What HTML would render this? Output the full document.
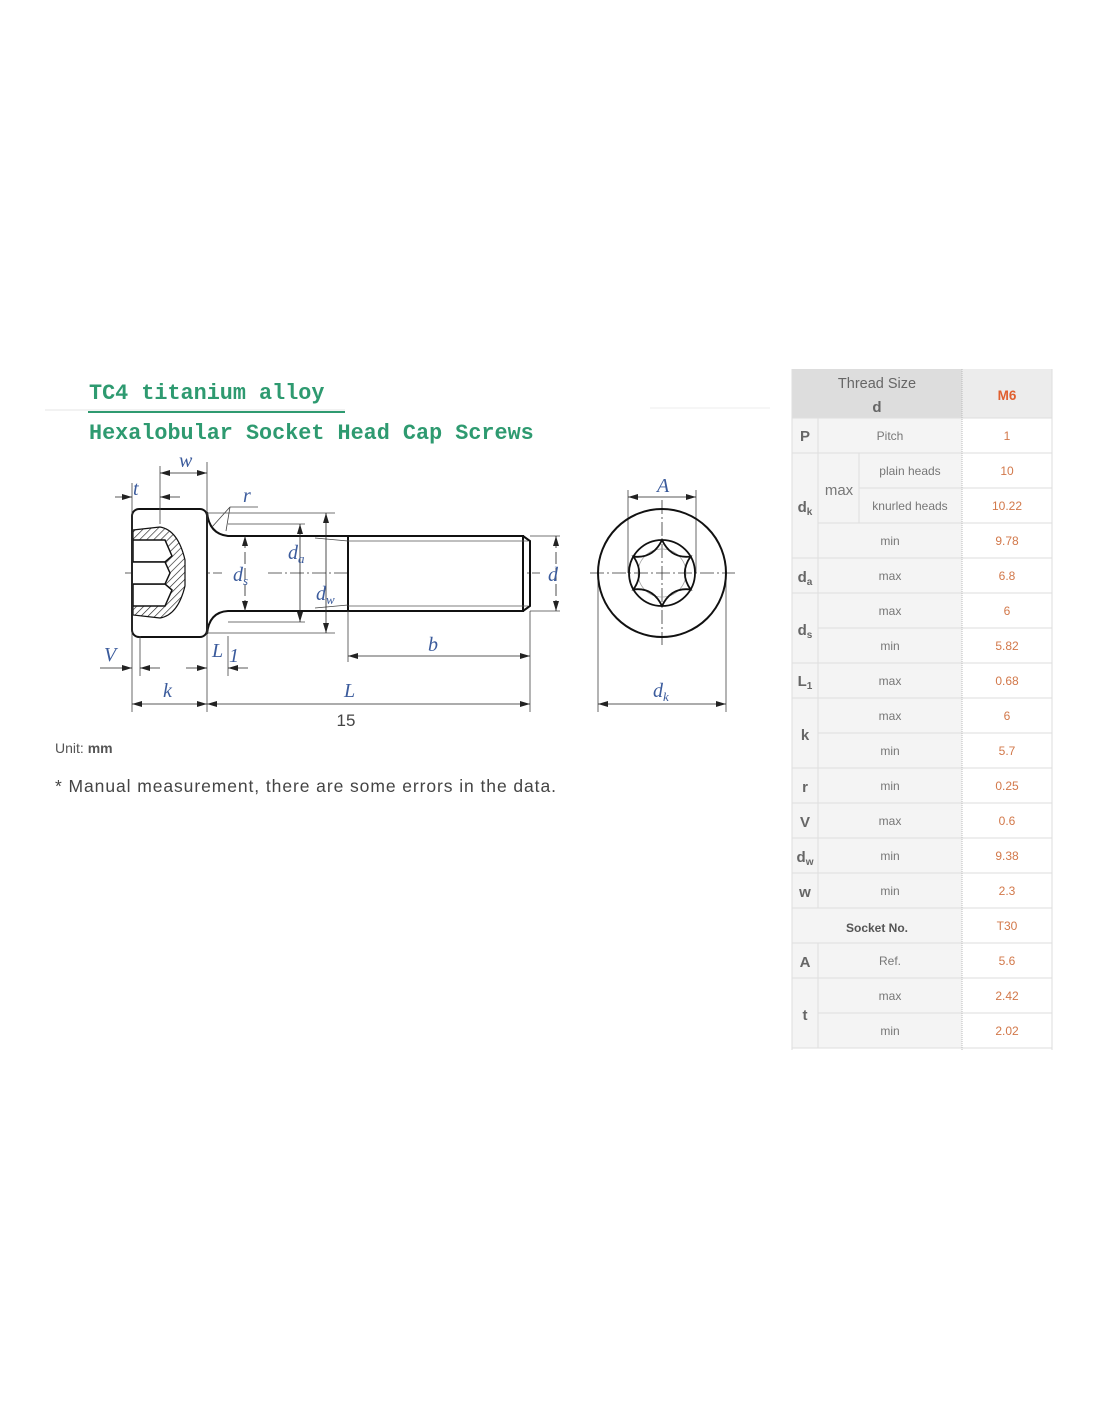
<!DOCTYPE html>
<html><head><meta charset="utf-8"><style>
html,body{margin:0;padding:0;background:#fff;}
body{width:1100px;height:1422px;position:relative;overflow:hidden;}
svg{position:absolute;left:0;top:0;}
.ti{font-family:"Liberation Mono",monospace;fill:#2e9a70;font-size:21.8px;font-weight:bold;}
.dim{font-family:"Liberation Serif",serif;font-style:italic;fill:#3b5b9c;font-size:20px;}
.tb{font-family:"Liberation Sans",sans-serif;font-size:12px;fill:#777;text-anchor:middle;}
.tv{font-family:"Liberation Sans",sans-serif;font-size:12px;fill:#d2784a;text-anchor:middle;}
.tl{font-family:"Liberation Sans",sans-serif;font-size:15px;fill:#666;text-anchor:middle;font-weight:bold;}
</style></head><body>
<svg width="1100" height="1422" viewBox="0 0 1100 1422">
<defs>
<pattern id="h" width="5" height="5" patternUnits="userSpaceOnUse" patternTransform="rotate(45)"><line x1="0" y1="0" x2="0" y2="5" stroke="#222" stroke-width="1.3"/></pattern>
<marker id="a" viewBox="0 0 10 6" refX="10" refY="3" markerWidth="10" markerHeight="6" orient="auto-start-reverse" markerUnits="userSpaceOnUse"><path d="M0,0L10,3L0,6z" fill="#222"/></marker>
</defs>
<line x1="45" y1="410" x2="345" y2="410" stroke="#e4e4e4"/>
<line x1="650" y1="408" x2="770" y2="408" stroke="#eee"/>
<line x1="88" y1="412" x2="345" y2="412" stroke="#2e9a70" stroke-width="2"/>
<text class="ti" x="89" y="399">TC4 titanium alloy</text>
<text class="ti" x="89" y="439">Hexalobular Socket Head Cap Screws</text>

<g stroke="#333" stroke-width="0.8" stroke-dasharray="14,3,2,3" fill="none">
<line x1="125" y1="573" x2="222" y2="573"/><line x1="268" y1="573" x2="540" y2="573"/>
<line x1="590" y1="573" x2="735" y2="573"/><line x1="662" y1="500" x2="662" y2="645"/>
</g>
<rect x="132" y="509" width="75" height="128" rx="7" fill="#fff" stroke="#111" stroke-width="2"/>
<path d="M133,530 L160,527 Q178,530 185,560 L185,586 Q178,615 160,618 L133,615 Z" fill="url(#h)" stroke="#111" stroke-width="1.2"/>
<path d="M133,540 L165,540 L172,556 L165,562 L133,562 Z M133,584 L165,584 L172,590 L165,606 L133,606 Z" fill="#fff" stroke="#111" stroke-width="1.5"/>
<path d="M133,562 L165,562 L170,573 L165,584 L133,584" fill="#fff" stroke="#111" stroke-width="1.5"/>
<path d="M207,512 Q209,534 228,536 L348,536 M207,634 Q209,612 228,611 L348,611" fill="none" stroke="#111" stroke-width="2"/>
<rect x="348" y="536" width="175" height="75" fill="#fff" stroke="#111" stroke-width="2"/>
<path d="M523,536 L530,541 L530,606 L523,611" fill="none" stroke="#111" stroke-width="2"/>
<line x1="348" y1="541" x2="528" y2="541" stroke="#555" stroke-width="0.8"/>
<line x1="348" y1="606" x2="528" y2="606" stroke="#555" stroke-width="0.8"/>
<g stroke="#444" stroke-width="0.8" fill="none">
<line x1="207" y1="513" x2="335" y2="513"/><line x1="207" y1="633" x2="335" y2="633"/>
<line x1="228" y1="524" x2="305" y2="524"/><line x1="228" y1="622" x2="305" y2="622"/>
<line x1="315" y1="538" x2="348" y2="541"/><line x1="315" y1="608" x2="348" y2="605"/>
<line x1="132" y1="483" x2="132" y2="712"/><line x1="207" y1="462" x2="207" y2="712"/>
<line x1="530" y1="611" x2="530" y2="712"/><line x1="348" y1="611" x2="348" y2="662"/>
<line x1="160" y1="466" x2="160" y2="524"/><line x1="140" y1="636" x2="140" y2="676"/>
<line x1="228" y1="636" x2="228" y2="676"/>
<line x1="230" y1="507" x2="258" y2="507"/><line x1="230" y1="507" x2="212" y2="527"/><line x1="230" y1="507" x2="226" y2="531"/>
<line x1="530" y1="536" x2="560" y2="536"/><line x1="530" y1="611" x2="560" y2="611"/>
<line x1="598" y1="573" x2="598" y2="712"/><line x1="726" y1="573" x2="726" y2="712"/>
<line x1="628" y1="490" x2="628" y2="573"/><line x1="696" y1="490" x2="696" y2="573"/>
</g>
<g stroke="#222" stroke-width="0.8" fill="none">
<line x1="160" y1="473" x2="207" y2="473" marker-start="url(#a)" marker-end="url(#a)"/>
<line x1="115" y1="497" x2="132" y2="497" marker-end="url(#a)"/><line x1="160" y1="497" x2="180" y2="497" marker-start="url(#a)"/>
<line x1="100" y1="668" x2="132" y2="668" marker-end="url(#a)"/><line x1="140" y1="668" x2="160" y2="668" marker-start="url(#a)"/>
<line x1="186" y1="668" x2="207" y2="668" marker-end="url(#a)"/><line x1="228" y1="668" x2="248" y2="668" marker-start="url(#a)"/>
<line x1="132" y1="704" x2="207" y2="704" marker-start="url(#a)" marker-end="url(#a)"/>
<line x1="207" y1="704" x2="530" y2="704" marker-start="url(#a)" marker-end="url(#a)"/>
<line x1="348" y1="656" x2="530" y2="656" marker-start="url(#a)" marker-end="url(#a)"/>
<line x1="326" y1="513" x2="326" y2="633" marker-start="url(#a)" marker-end="url(#a)"/>
<line x1="300" y1="524" x2="300" y2="622" marker-start="url(#a)" marker-end="url(#a)"/>
<line x1="245" y1="536" x2="245" y2="611" marker-start="url(#a)" marker-end="url(#a)" stroke-dasharray="12,4"/>
<line x1="556" y1="536" x2="556" y2="611" marker-start="url(#a)" marker-end="url(#a)" stroke-dasharray="12,4"/>
<line x1="628" y1="497" x2="696" y2="497" marker-start="url(#a)" marker-end="url(#a)"/>
<line x1="598" y1="704" x2="726" y2="704" marker-start="url(#a)" marker-end="url(#a)"/>
</g>
<circle cx="662" cy="573" r="64" fill="none" stroke="#111" stroke-width="2"/>
<circle cx="662" cy="573" r="33" fill="none" stroke="#111" stroke-width="1.8"/>
<circle cx="662" cy="573" r="24" fill="none" stroke="#999" stroke-width="0.7"/>
<path d="M662,540 Q671,559 690.6,556.5 Q679,573 690.6,589.5 Q671,587 662,606 Q653,587 633.4,589.5 Q645,573 633.4,556.5 Q653,559 662,540Z" fill="none" stroke="#111" stroke-width="1.8"/>
<text class="dim" x="179" y="467">w</text>
<text class="dim" x="133" y="495">t</text>
<text class="dim" x="243" y="502">r</text>
<text class="dim" x="288" y="559">d<tspan font-size="13" dy="4">a</tspan></text>
<text class="dim" x="233" y="581">d<tspan font-size="13" dy="4">s</tspan></text>
<text class="dim" x="316" y="600">d<tspan font-size="13" dy="4">w</tspan></text>
<text class="dim" x="548" y="581">d</text>
<text class="dim" x="104" y="661">V</text>
<text class="dim" x="212" y="657">L</text><text class="dim" x="229" y="662" font-size="15">1</text>
<text class="dim" x="428" y="651">b</text>
<text class="dim" x="163" y="697">k</text>
<text class="dim" x="344" y="697">L</text>
<text class="dim" x="657" y="492">A</text>
<text class="dim" x="653" y="697">d<tspan font-size="13" dy="4">k</tspan></text>
<text x="346" y="726" font-family="Liberation Sans,sans-serif" font-size="17" fill="#444" text-anchor="middle">15</text>
<text x="55" y="753" font-family="Liberation Sans,sans-serif" font-size="14" fill="#555">Unit: <tspan font-weight="bold">mm</tspan></text>
<text x="55" y="792" font-family="Liberation Sans,sans-serif" font-size="17.5" fill="#444" textLength="501" lengthAdjust="spacing">* Manual measurement, there are some errors in the data.</text>

<rect x="792" y="369" width="170" height="49" fill="#dddddd"/>
<rect x="962" y="369" width="90" height="49" fill="#ececec"/>
<rect x="792" y="418" width="170" height="630" fill="#f4f4f4"/>
<rect x="962" y="418" width="90" height="630" fill="#fff"/>
<g stroke="#dedede" stroke-width="1">
<line x1="792" y1="418" x2="1052" y2="418"/>
<line x1="792" y1="453" x2="1052" y2="453"/>
<line x1="859" y1="488" x2="1052" y2="488"/>
<line x1="818" y1="523" x2="1052" y2="523"/>
<line x1="792" y1="558" x2="1052" y2="558"/>
<line x1="792" y1="593" x2="1052" y2="593"/>
<line x1="818" y1="628" x2="1052" y2="628"/>
<line x1="792" y1="663" x2="1052" y2="663"/>
<line x1="792" y1="698" x2="1052" y2="698"/>
<line x1="818" y1="733" x2="1052" y2="733"/>
<line x1="792" y1="768" x2="1052" y2="768"/>
<line x1="792" y1="803" x2="1052" y2="803"/>
<line x1="792" y1="838" x2="1052" y2="838"/>
<line x1="792" y1="873" x2="1052" y2="873"/>
<line x1="792" y1="908" x2="1052" y2="908"/>
<line x1="792" y1="943" x2="1052" y2="943"/>
<line x1="792" y1="978" x2="1052" y2="978"/>
<line x1="818" y1="1013" x2="1052" y2="1013"/>
<line x1="792" y1="1048" x2="1052" y2="1048"/>
<line x1="818" y1="418" x2="818" y2="908"/><line x1="818" y1="943" x2="818" y2="1048"/>
<line x1="859" y1="453" x2="859" y2="523"/>
<line x1="792" y1="369" x2="792" y2="1050"/><line x1="1052" y1="369" x2="1052" y2="1050"/>
</g>
<line x1="962" y1="369" x2="962" y2="1050" stroke="#bbb" stroke-dasharray="1,1"/>
<text x="877" y="388" font-family="Liberation Sans,sans-serif" font-size="14.5" fill="#666" text-anchor="middle">Thread Size</text>
<text x="877" y="412" class="tl">d</text>
<text x="1007" y="400" font-family="Liberation Sans,sans-serif" font-size="13.5" font-weight="bold" fill="#e06030" text-anchor="middle">M6</text>
<text class="tl" x="805" y="441">P</text>
<text class="tl" x="805" y="512">d<tspan font-size="10" dy="3">k</tspan></text>
<text class="tl" x="805" y="582">d<tspan font-size="10" dy="3">a</tspan></text>
<text class="tl" x="805" y="635">d<tspan font-size="10" dy="3">s</tspan></text>
<text class="tl" x="805" y="686">L<tspan font-size="10" dy="3">1</tspan></text>
<text class="tl" x="805" y="740">k</text>
<text class="tl" x="805" y="792">r</text>
<text class="tl" x="805" y="827">V</text>
<text class="tl" x="805" y="862">d<tspan font-size="10" dy="3">w</tspan></text>
<text class="tl" x="805" y="897">w</text>
<text class="tl" x="805" y="967">A</text>
<text class="tl" x="805" y="1020">t</text>
<text x="839" y="495" font-family="Liberation Sans,sans-serif" font-size="15" fill="#777" text-anchor="middle">max</text>
<g class="tb">
<text x="890" y="440">Pitch</text>
<text x="910" y="475">plain heads</text>
<text x="910" y="510">knurled heads</text>
<text x="890" y="545">min</text>
<text x="890" y="580">max</text>
<text x="890" y="615">max</text>
<text x="890" y="650">min</text>
<text x="890" y="685">max</text>
<text x="890" y="720">max</text>
<text x="890" y="755">min</text>
<text x="890" y="790">min</text>
<text x="890" y="825">max</text>
<text x="890" y="860">min</text>
<text x="890" y="895">min</text>
<text x="877" y="932" fill="#555" font-weight="bold">Socket No.</text>
<text x="890" y="965">Ref.</text>
<text x="890" y="1000">max</text>
<text x="890" y="1035">min</text>
</g>
<g class="tv">
<text x="1007" y="440">1</text>
<text x="1007" y="475">10</text>
<text x="1007" y="510">10.22</text>
<text x="1007" y="545">9.78</text>
<text x="1007" y="580">6.8</text>
<text x="1007" y="615">6</text>
<text x="1007" y="650">5.82</text>
<text x="1007" y="685">0.68</text>
<text x="1007" y="720">6</text>
<text x="1007" y="755">5.7</text>
<text x="1007" y="790">0.25</text>
<text x="1007" y="825">0.6</text>
<text x="1007" y="860">9.38</text>
<text x="1007" y="895">2.3</text>
<text x="1007" y="930">T30</text>
<text x="1007" y="965">5.6</text>
<text x="1007" y="1000">2.42</text>
<text x="1007" y="1035">2.02</text>
</g>
</svg>
</body></html>
